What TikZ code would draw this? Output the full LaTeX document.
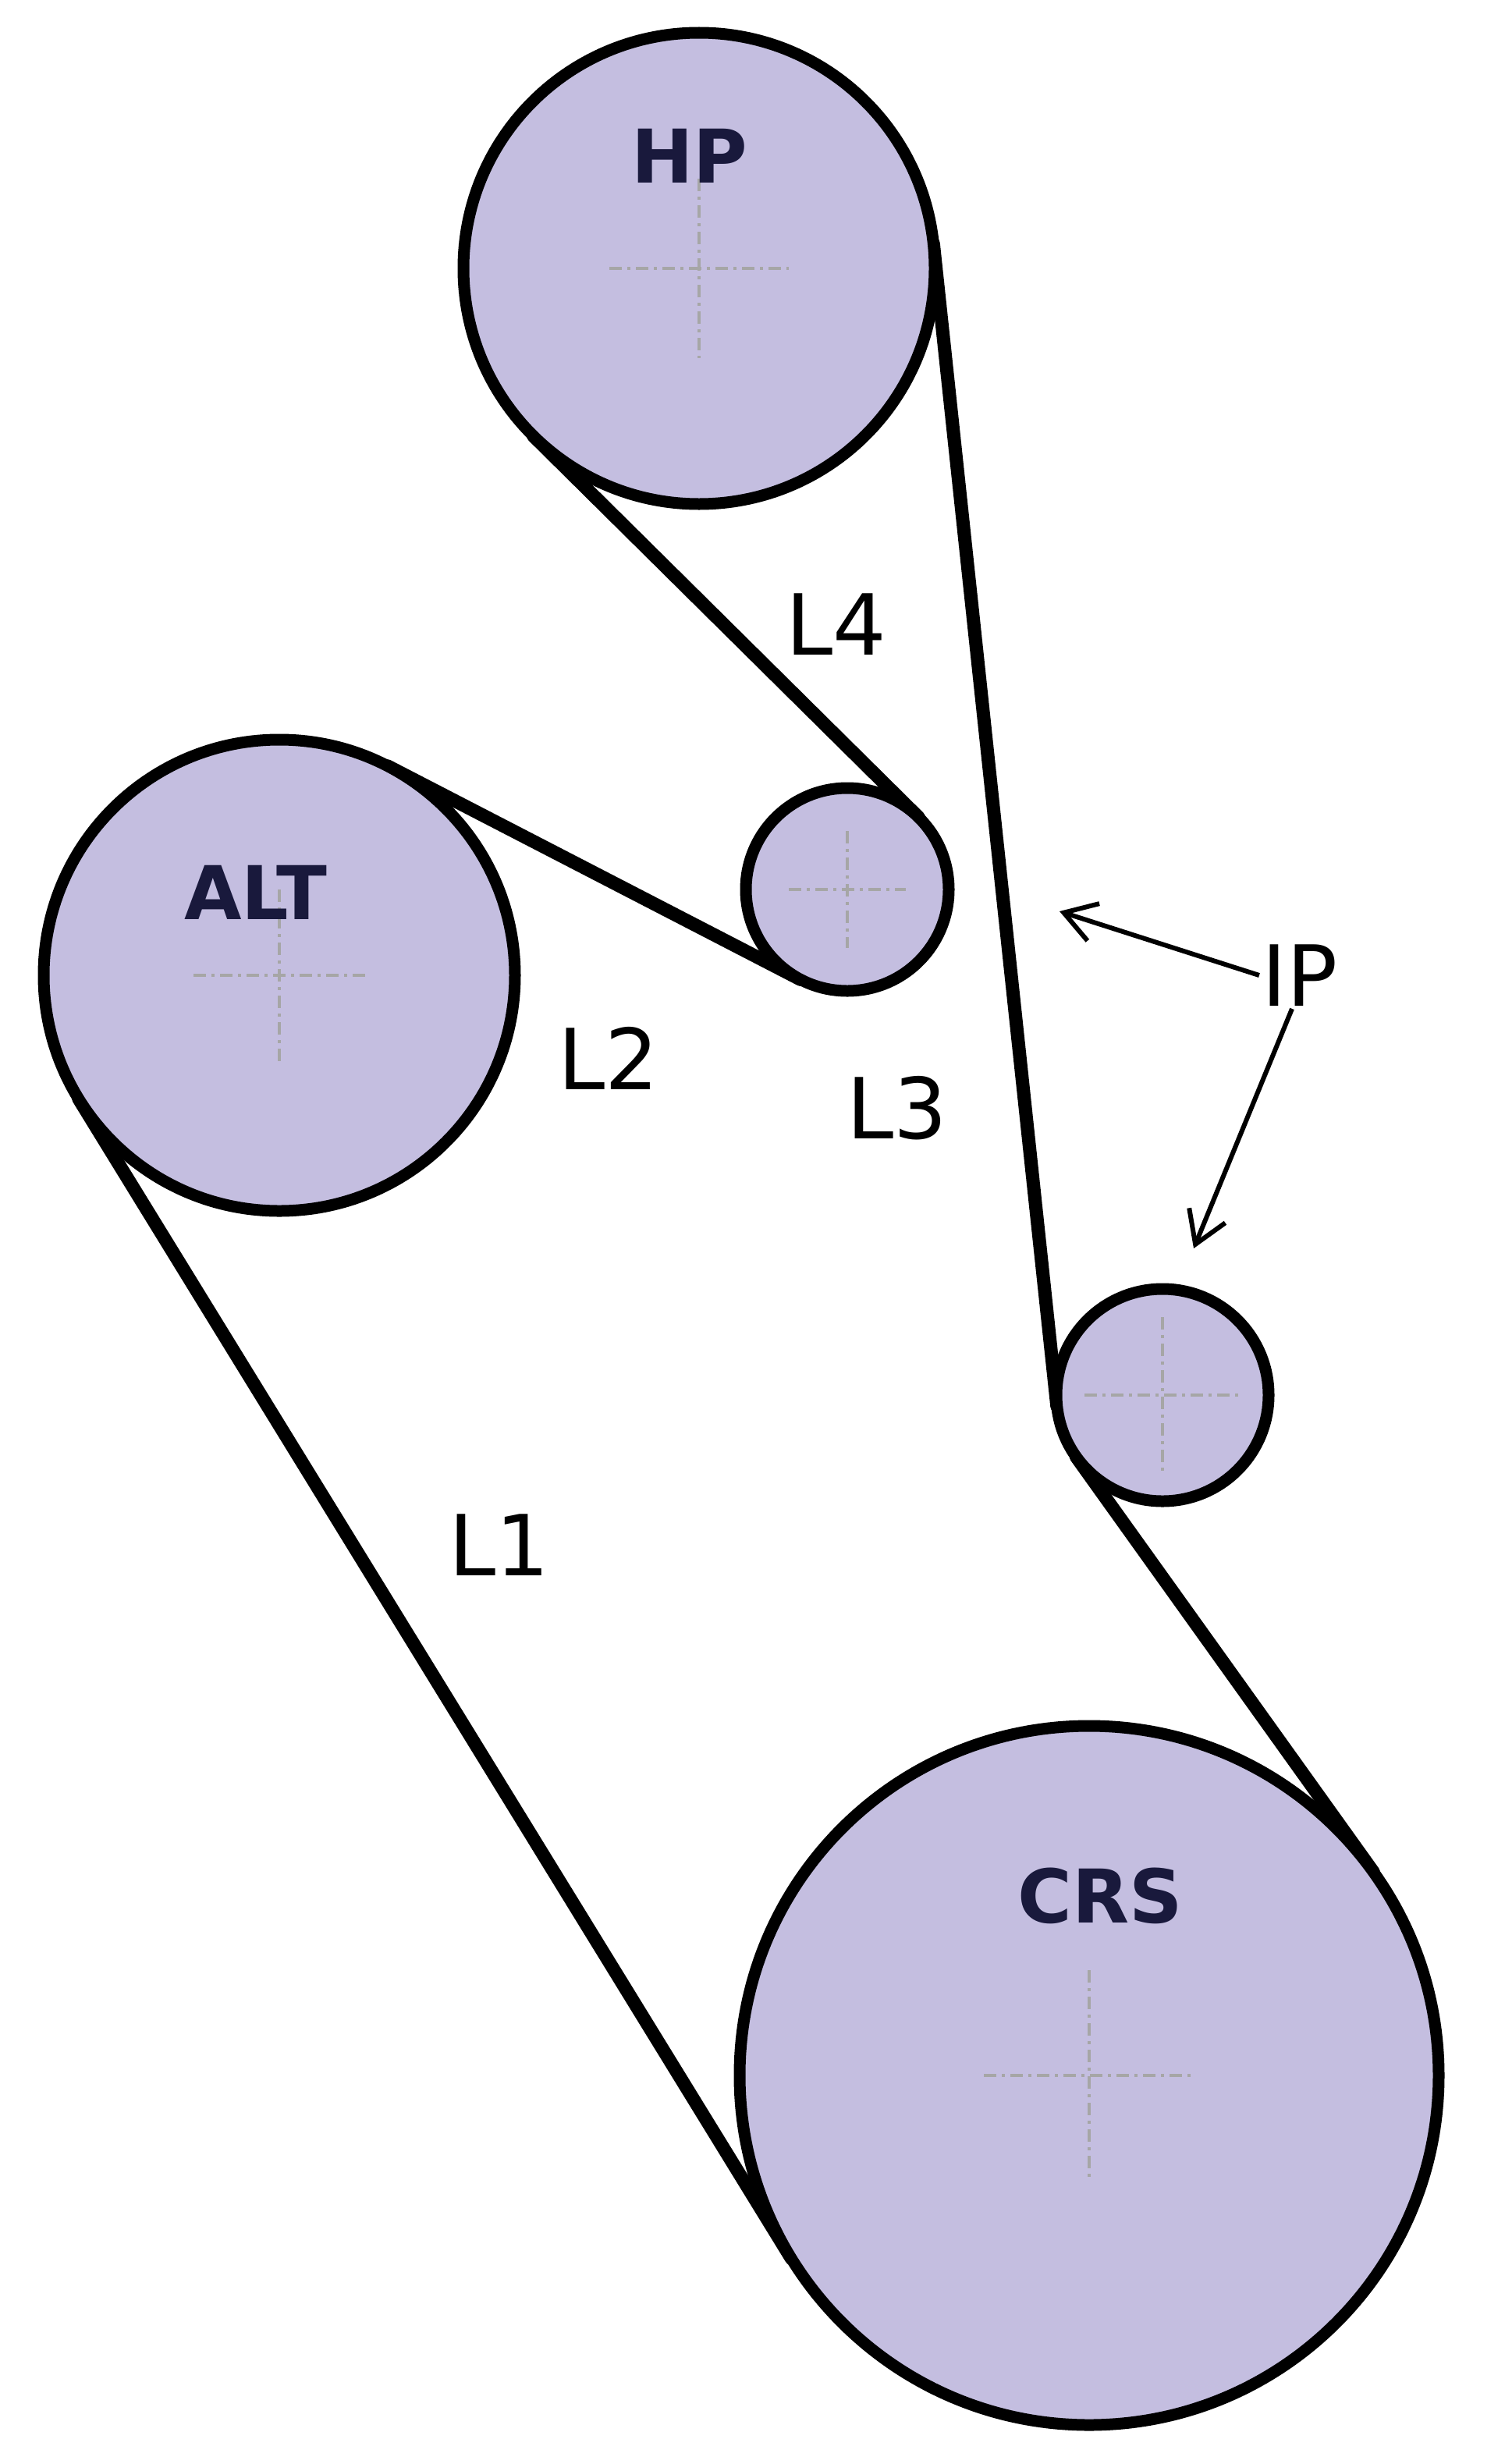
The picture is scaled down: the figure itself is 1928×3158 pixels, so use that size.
\documentclass[tikz,border=0pt]{standalone}
\usepackage{fontspec}
\setmainfont{DejaVu Sans}
\usetikzlibrary{calc,arrows.meta}
\definecolor{pul}{RGB}{196,190,224}
\definecolor{navy}{RGB}{25,25,60}
\tikzset{
 pulley/.style={draw=black,fill=pul,line width=15pt},
 belt/.style={draw=black,line width=17pt,line cap=round},
 cross/.style={draw=gray!70!white,line width=3.5pt,dash pattern=on 16pt off 7pt on 4pt off 7pt},
 bigl/.style={font=\fontsize{95}{100}\selectfont\bfseries,text=navy},
 lab/.style={font=\fontsize{108}{110}\selectfont,text=black},
 ptr/.style={draw=black,line width=6pt,-{Straight Barb[length=40pt,width=50pt,line width=6pt]}}
}
\newcommand\tanline[6]{%
 \draw[belt] let \p1=(#1), \p2=(#3), \n1={atan2(\y2-\y1,\x2-\x1)},
   \n2={veclen(\x2-\x1,\y2-\y1)}, \n3={\n1+#5*acos((#2-#6*#4)/\n2)} in
   ($(#1)+(\n3:#2pt)$) -- ($(#3)+(\n3+90-#6*90:#4pt)$);}
\begin{document}
\begin{tikzpicture}[x=1pt,y=1pt]
\useasboundingbox (0,0) rectangle (1928,-3158);
\coordinate (hp) at (896,-344);
\coordinate (alt) at (358,-1250);
\coordinate (t) at (1086,-1140);
\coordinate (ip) at (1490,-1788);
\coordinate (crs) at (1396,-2660);
\tanline{hp}{302}{ip}{136}{1}{-1}
\tanline{ip}{136}{crs}{448}{-1}{-1}
\tanline{crs}{448}{alt}{302}{1}{1}
\tanline{alt}{302}{t}{130}{1}{-1}
\tanline{t}{130}{hp}{302}{-1}{-1}
\node[pulley,circle,minimum size=604pt] (HPc) at (hp) {};
\node[pulley,circle,minimum size=604pt] (ALTc) at (alt) {};
\node[pulley,circle,minimum size=260pt] (Tc) at (t) {};
\node[pulley,circle,minimum size=272pt] (IPc) at (ip) {};
\node[pulley,circle,minimum size=896pt] (CRSc) at (crs) {};
\foreach \c/\l in {hp/115,alt/110,t/75,ip/100,crs/135}{
 \draw[cross] ($(\c)+(-\l,0)$) -- ($(\c)+(\l,0)$);
 \draw[cross] ($(\c)+(0,\l)$) -- ($(\c)+(0,-\l)$);}
\node[bigl] (HP) at (884,-200) {HP};
\node[bigl] (ALT) at (328,-1144) {ALT};
\node[bigl] (CRS) at (1410,-2430) {CRS};
\node[lab] (L4) at (1072,-800) {L4};
\node[lab] (L2) at (780,-1356) {L2};
\node[lab] (L3) at (1150,-1420) {L3};
\node[lab] (L1) at (640,-1980) {L1};
\node[lab] (IP) at (1666,-1250) {IP};
\coordinate (a1) at (1358,-1168);
\coordinate (a2) at (1530,-1600);
\draw[ptr] (IP.west) -- (a1);
\draw[ptr] (IP.south) ++(-10,0) -- (a2);
\end{tikzpicture}
\end{document}
